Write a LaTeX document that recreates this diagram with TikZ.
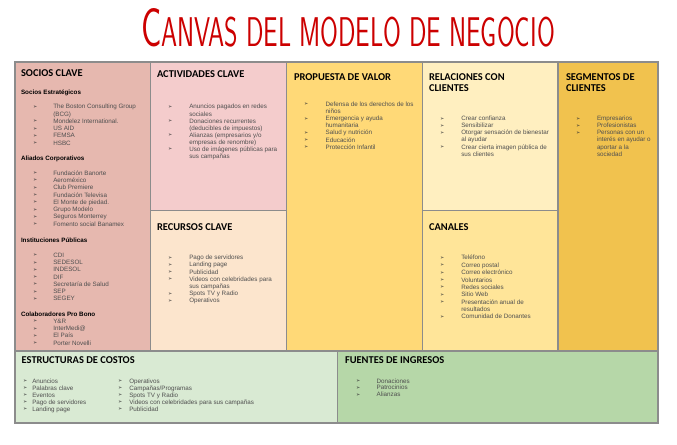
\documentclass[tikz,border=0pt]{standalone}
\usepackage{fontspec}
\usepackage{graphicx}
\newfontfamily\cvbody{Liberation Sans}
\newfontfamily\cvhead{Carlito}
\newfontfamily\cvsym{DejaVu Sans}
\definecolor{socc}{HTML}{E6B8AF}
\definecolor{actc}{HTML}{F4CCCC}
\definecolor{recc}{HTML}{FCE5CD}
\definecolor{proc}{HTML}{FFD977}
\definecolor{relc}{HTML}{FFEFC0}
\definecolor{canc}{HTML}{FFE599}
\definecolor{segc}{HTML}{F1C24E}
\definecolor{estc}{HTML}{D9EAD3}
\definecolor{fuec}{HTML}{B6D7A8}
\definecolor{linec}{HTML}{8C8C8C}
\definecolor{itemc}{HTML}{4F4F4F}
\definecolor{titc}{HTML}{CC0000}
\newlength\cvbw
\newcommand\ib{\makebox[\cvbw][l]{\raisebox{0.5bp}{\cvsym\fontsize{5}{5}\selectfont\color{black!80}➢}}}
\newcommand\ic{\hspace*{\cvbw}}
\newcommand\cvlist[3]{{\setlength\cvbw{#2}\cvbody\color{itemc}\fontsize{6.3}{#1}\selectfont\begin{tabular}[t]{@{}l@{}}#3\end{tabular}}}
\newcommand\cvhd[1]{{\cvhead\bfseries\fontsize{10.5}{11.3}\selectfont\begin{tabular}[t]{@{}l@{}}#1\end{tabular}}}
\tikzset{
  cell/.style={fill=#1, draw=linec, line width=1.4bp},
  txt/.style={anchor=base west, inner sep=0pt, outer sep=0pt},
  subh/.style={txt, font=\cvbody\bfseries\fontsize{6.3}{7}\selectfont, text=black},
}
\begin{document}
\begin{tikzpicture}[x=1bp,y=-1bp]
\useasboundingbox (0,0) rectangle (677,445);
\fill[white] (0,0) rectangle (677,445);
% title
\node[inner sep=0pt, anchor=base, text=titc] (title) at (348,46.7)
  {\resizebox{414bp}{38bp}{\sffamily{\fontsize{50}{50}\selectfont C}{\fontsize{38}{38}\selectfont ANVAS DEL MODELO DE NEGOCIO}}};
% cells
\path[cell=socc] (15,62) rectangle (150.7,351);
\path[cell=actc] (150.7,62) rectangle (286.7,210.7);
\path[cell=recc] (150.7,210.7) rectangle (286.7,351);
\path[cell=proc] (286.7,62) rectangle (422.7,351);
\path[cell=relc] (422.7,62) rectangle (558,210.7);
\path[cell=canc] (422.7,210.7) rectangle (558,351);
\path[cell=segc] (558,62) rectangle (658,351);
\path[cell=estc] (15,351) rectangle (337.3,423);
\path[cell=fuec] (337.3,351) rectangle (658,423);
% socios clave
\node[txt] (sochd) at (21,76.5) {\cvhd{SOCIOS CLAVE}};
\node[subh] (socs1) at (21,94.3) {Socios Estratégicos};
\node[txt] (socl1) at (33,108.8) {\cvlist{7.3}{20.3bp}{
\ib The Boston Consulting Group\\
\ic (BCG)\\
\ib Mondelez International.\\
\ib US AID\\
\ib FEMSA\\
\ib HSBC}};
\node[subh] (socs2) at (21,160.3) {Aliados Corporativos};
\node[txt] (socl2) at (33,175.2) {\cvlist{7.3}{20.3bp}{
\ib Fundación Banorte\\
\ib Aeroméxico\\
\ib Club Premiere\\
\ib Fundación Televisa\\
\ib El Monte de piedad.\\
\ib Grupo Modelo\\
\ib Seguros Monterrey\\
\ib Fomento social Banamex}};
\node[subh] (socs3) at (21,242.3) {Instituciones Públicas};
\node[txt] (socl3) at (33,257.3) {\cvlist{7.3}{20.3bp}{
\ib CDI\\
\ib SEDESOL\\
\ib INDESOL\\
\ib DIF\\
\ib Secretaría de Salud\\
\ib SEP\\
\ib SEGEY}};
\node[subh] (socs4) at (21,316.3) {Colaboradores Pro Bono};
\node[txt] (socl4) at (33,323.3) {\cvlist{7.3}{20.3bp}{
\ib Y\&R\\
\ib InterMedi@\\
\ib El País\\
\ib Porter Novelli}};
% actividades clave
\node[txt] (acthd) at (157,77.5) {\cvhd{ACTIVIDADES CLAVE}};
\node[txt] (actl) at (168,109) {\cvlist{7.1}{21.3bp}{
\ib Anuncios pagados en redes\\
\ic sociales\\
\ib Donaciones recurrentes\\
\ic (deducibles de impuestos)\\
\ib Alianzas (empresarios y/o\\
\ic empresas de renombre)\\
\ib Uso de imágenes públicas para\\
\ic sus campañas}};
% recursos clave
\node[txt] (rechd) at (157,230.2) {\cvhd{RECURSOS CLAVE}};
\node[txt] (recl) at (168,259.6) {\cvlist{7.23}{21.3bp}{
\ib Pago de servidores\\
\ib Landing page\\
\ib Publicidad\\
\ib Videos con celebridades para\\
\ic sus campañas\\
\ib Spots TV y Radio\\
\ib Operativos}};
% propuesta de valor
\node[txt] (prohd) at (294,80.5) {\cvhd{PROPUESTA DE VALOR}};
\node[txt] (prol) at (304,106.3) {\cvlist{7.17}{21.7bp}{
\ib Defensa de los derechos de los\\
\ic niños\\
\ib Emergencia y ayuda\\
\ic humanitaria\\
\ib Salud y nutrición\\
\ib Educación\\
\ib Protección Infantil}};
% relaciones con clientes
\node[txt] (relhd) at (429,80.5) {\cvhd{RELACIONES CON\\CLIENTES}};
\node[txt] (rell) at (440,120.6) {\cvlist{7.14}{21.3bp}{
\ib Crear confianza\\
\ib Sensibilizar\\
\ib Otorgar sensación de bienestar\\
\ic al ayudar\\
\ib Crear cierta imagen pública de\\
\ic sus clientes}};
% canales
\node[txt] (canhd) at (429,230.2) {\cvhd{CANALES}};
\node[txt] (canl) at (440,260) {\cvlist{7.37}{21.3bp}{
\ib Teléfono\\
\ib Correo postal\\
\ib Correo electrónico\\
\ib Voluntarios\\
\ib Redes sociales\\
\ib Sitio Web\\
\ib Presentación anual de\\
\ic resultados\\
\ib Comunidad de Donantes}};
% segmentos de clientes
\node[txt] (seghd) at (566,80.5) {\cvhd{SEGMENTOS DE\\CLIENTES}};
\node[txt] (segl) at (576,120.6) {\cvlist{7.14}{21bp}{
\ib Empresarios\\
\ib Profesionistas\\
\ib Personas con un\\
\ic interés en ayudar o\\
\ic aportar a la\\
\ic sociedad}};
% estructuras de costos
\node[txt] (esthd) at (21.7,363.5) {\cvhd{ESTRUCTURAS DE COSTOS}};
\node[txt] (estl1) at (23,383.3) {\cvlist{7}{9.3bp}{
\ib Anuncios\\
\ib Palabras clave\\
\ib Eventos\\
\ib Pago de servidores\\
\ib Landing page}};
\node[txt] (estl2) at (118,383.3) {\cvlist{7}{11.3bp}{
\ib Operativos\\
\ib Campañas/Programas\\
\ib Spots TV y Radio\\
\ib Videos con celebridades para sus campañas\\
\ib Publicidad}};
% fuentes de ingresos
\node[txt] (fuehd) at (345,363.5) {\cvhd{FUENTES DE INGRESOS}};
\node[txt] (fuel) at (356,383) {\cvlist{7}{20.7bp}{
\ib Donaciones\\
\ib Patrocinios\\
\ib Alianzas}};
\end{tikzpicture}
\end{document}
